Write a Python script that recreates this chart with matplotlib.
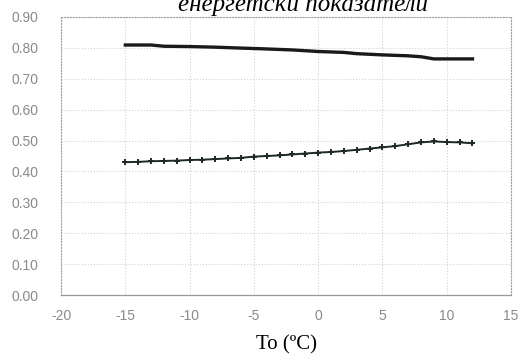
import matplotlib.pyplot as plt

plt.rcParams['axes.unicode_minus'] = False

# температура на надворешниот воздух
temp_top = [-15, -13, -12, -10, -8, -6, -4.5, -2, 0, 2, 3, 5, 7, 8, 9, 10, 11, 12]
eff_top = [0.809, 0.809, 0.805, 0.804, 0.802, 0.799, 0.797, 0.793, 0.788, 0.785, 0.781, 0.777, 0.774, 0.771, 0.764, 0.764, 0.764, 0.764]

temp_low = list(range(-15, 13))
eff_low = [0.430, 0.431, 0.433, 0.434, 0.435, 0.437, 0.438, 0.440, 0.442, 0.444, 0.448,
           0.450, 0.452, 0.455, 0.458, 0.461, 0.463, 0.466, 0.470, 0.474, 0.478,
           0.482, 0.488, 0.494, 0.497, 0.495, 0.494, 0.491]

xticks = [-20, -15, -10, -5, 0, 5, 10, 15]
yticks = [0.0, 0.1, 0.2, 0.3, 0.4, 0.5, 0.6, 0.7, 0.8, 0.9]

fig = plt.figure(figsize=(5.22, 3.59), dpi=100)
ax = fig.add_axes([0.117, 0.178, 0.862, 0.775])

ax.plot(temp_top, eff_top, color='#1a1a1a', lw=2.4)
ax.plot(temp_low, eff_low, color='#1f2a22', lw=1.4, marker='+', ms=5, mew=1.4)

ax.set_xlim(-20, 15)
ax.set_ylim(0, 0.9)
ax.set_xticks(xticks)
ax.set_yticks(yticks)
ax.set_yticklabels(['%.2f' % v for v in yticks])
ax.tick_params(length=0, labelsize=10, labelcolor='#8a8a8a')
for lbl in ax.get_xticklabels() + ax.get_yticklabels():
    lbl.set_family('Liberation Sans')
ax.tick_params(axis='y', pad=16)
ax.tick_params(axis='x', pad=10)
ax.grid(True, color='#d2d2d2', ls=':', lw=0.8)

for s in ['top', 'left', 'right']:
    ax.spines[s].set_color('#a0a0a0')
    ax.spines[s].set_linestyle(':')
ax.spines['bottom'].set_color('#9a9a9a')
ax.spines['bottom'].set_linewidth(0.9)

ax.set_xlabel('To (ºC)', family='Liberation Serif', fontsize=15, labelpad=9)
fig.text(0.58, 0.985, 'енергетски показатели', family='Liberation Serif',
         style='italic', fontsize=18, ha='center', va='center')

fig.savefig('out.png', dpi=100)
